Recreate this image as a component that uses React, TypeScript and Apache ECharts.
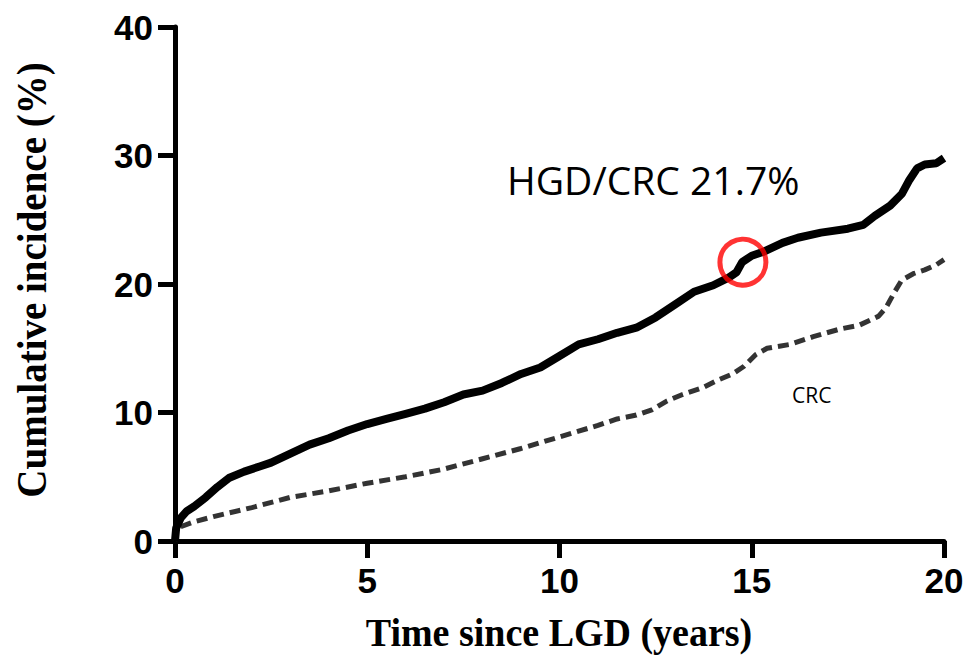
import React, { useEffect, useRef } from "react";
import * as echarts from "echarts";

const hgdCrc: [number, number][] = [
  [0, 0], [0.03, 1.0], [0.15, 1.8], [0.3, 2.3], [0.5, 2.7], [0.8, 3.4], [1.1, 4.2], [1.4, 4.9],
  [1.8, 5.4], [2.2, 5.8], [2.5, 6.1], [3, 6.8], [3.5, 7.5], [4, 8.0], [4.5, 8.6], [5, 9.1],
  [5.5, 9.5], [6, 9.9], [6.5, 10.3], [7, 10.8], [7.5, 11.4], [8, 11.7], [8.5, 12.3], [9, 13.0],
  [9.5, 13.5], [10, 14.4], [10.5, 15.3], [11, 15.7], [11.5, 16.2], [12, 16.6], [12.5, 17.4],
  [13, 18.4], [13.5, 19.4], [14, 19.9], [14.4, 20.5], [14.6, 20.9], [14.75, 21.7], [15, 22.2],
  [15.3, 22.5], [15.8, 23.2], [16.2, 23.6], [16.8, 24.0], [17.5, 24.3], [17.9, 24.6], [18.2, 25.3],
  [18.6, 26.1], [18.9, 27.0], [19.1, 28.1], [19.3, 29.0], [19.5, 29.3], [19.8, 29.4], [20, 29.8],
];

const crc: [number, number][] = [
  [0, 0], [0.05, 1.0], [0.5, 1.5], [1, 1.9], [2, 2.6], [3, 3.4], [4, 3.9], [5, 4.5], [6, 5.0],
  [7, 5.6], [8, 6.4], [9, 7.2], [10, 8.1], [11, 9.0], [11.5, 9.5], [12, 9.8], [12.4, 10.2],
  [12.8, 10.9], [13.2, 11.4], [13.7, 11.9], [14.1, 12.5], [14.5, 13.0], [14.8, 13.6], [15.1, 14.5],
  [15.4, 15.0], [16, 15.3], [16.6, 15.9], [17.3, 16.5], [17.8, 16.8], [18.3, 17.5], [18.5, 18.2],
  [18.7, 19.3], [18.9, 20.3], [19.2, 20.8], [19.5, 21.1], [19.8, 21.5], [20, 21.9],
];

const highlight: [number, number][] = [[14.77, 21.7]];

const xTicks = { min: 0, max: 20, interval: 5 };
const yTicks = { min: 0, max: 40, interval: 10 };

const annotationMain = "HGD/CRC 21.7%";
const annotationCrc = "CRC";
const xTitle = "Time since LGD (years)";
const yTitle = "Cumulative incidence (%)";

export default function App() {
  const ref = useRef<HTMLDivElement>(null);
  useEffect(() => {
    if (!ref.current) return;
    const chart = echarts.init(ref.current, undefined, { renderer: "svg" });
    const axisCommon = {
      axisLine: { show: true, lineStyle: { color: "#000", width: 5 } },
      axisTick: { show: true, length: 17, lineStyle: { color: "#000", width: 5 } },
      splitLine: { show: false },
      axisLabel: {
        color: "#000",
        fontSize: 35,
        fontWeight: "bold" as const,
        fontFamily: "Liberation Sans",
      },
    };
    chart.setOption({
      animation: false,
      backgroundColor: "#fff",
      grid: { left: 175, right: 24, top: 27, bottom: 116 },
      xAxis: {
        type: "value",
        ...xTicks,
        ...axisCommon,
        axisLabel: { ...axisCommon.axisLabel, margin: 22 },
      },
      yAxis: {
        type: "value",
        ...yTicks,
        ...axisCommon,
        axisLabel: { ...axisCommon.axisLabel, margin: 22 },
      },
      series: [
        {
          type: "line",
          data: crc,
          symbol: "none",
          lineStyle: { color: "#333", width: 5, type: [11, 6] },
          z: 2,
        },
        {
          type: "line",
          data: hgdCrc,
          symbol: "none",
          lineStyle: { color: "#000", width: 8 },
          z: 3,
        },
        {
          type: "scatter",
          data: highlight,
          symbol: "circle",
          symbolSize: 46,
          itemStyle: { color: "rgba(0,0,0,0)", borderColor: "#f00", borderWidth: 5 },
          z: 4,
        },
      ],
      graphic: [
        {
          type: "text",
          x: 507,
          y: 179,
          style: {
            text: annotationMain,
            fontSize: 39,
            fontFamily: "Open Sans",
            fill: "#000",
            align: "left",
            verticalAlign: "middle",
          },
        },
        {
          type: "text",
          x: 792,
          y: 395,
          style: {
            text: annotationCrc,
            fontSize: 21,
            fontFamily: "Open Sans",
            fill: "#000",
            align: "left",
            verticalAlign: "middle",
          },
        },
        {
          type: "text",
          x: 559,
          y: 632,
          scaleY: 1.06,
          style: {
            text: xTitle,
            fontSize: 38,
            fontWeight: "bold",
            fontFamily: "Liberation Serif",
            fill: "#000",
            align: "center",
            verticalAlign: "middle",
          },
        },
        {
          type: "text",
          x: 31,
          y: 280,
          rotation: Math.PI / 2,
          scaleY: 1.1,
          style: {
            text: yTitle,
            fontSize: 39,
            fontWeight: "bold",
            fontFamily: "Liberation Serif",
            fill: "#000",
            align: "center",
            verticalAlign: "middle",
          },
        },
      ],
    });
    return () => chart.dispose();
  }, []);
  return <div ref={ref} style={{ width: 968, height: 657, position: "absolute", left: 0, top: 0 }} />;
}
